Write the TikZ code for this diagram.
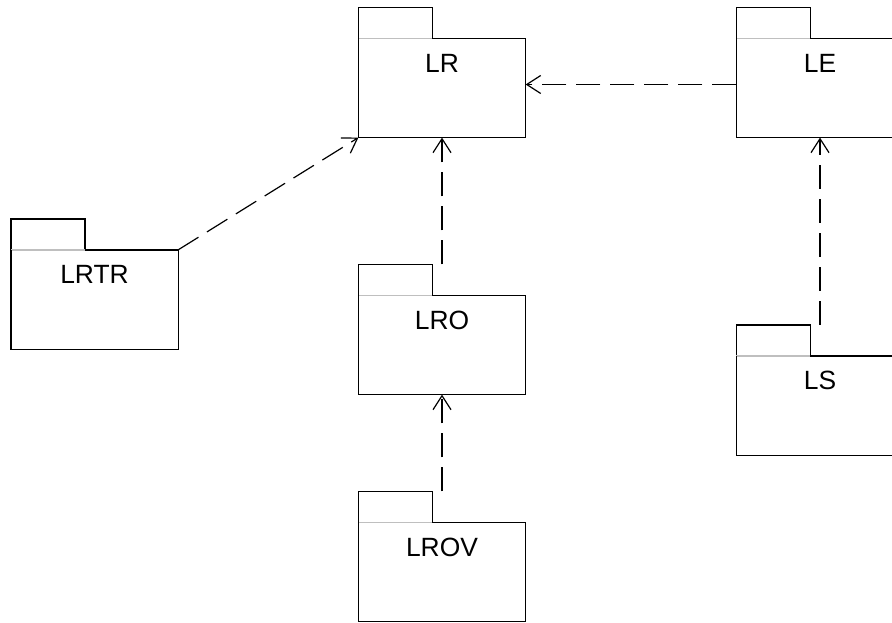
\documentclass[tikz,border=0pt]{standalone}
\usepackage{fontspec}
\setmainfont{Liberation Sans}
\usetikzlibrary{arrows.meta}
\newcommand{\tabw}{37pt}
\newcommand{\tabh}{15.5pt}

\begin{document}
\begin{tikzpicture}[x=0.5pt,y=0.5pt,line width=0.6pt,
	package/.style={minimum width=83pt,minimum height=64.5pt,inner sep=0pt,
	  label={[font=\fontsize{13.2}{15}\selectfont,anchor=center,yshift=-28pt]north:#1}},
	dep/.style={dash pattern=on 12pt off 5pt,-{Straight Barb[length=7pt,width=9pt]}}]
	\useasboundingbox (0,0) rectangle (892,622);
	\clip (0,0) rectangle (892,622);
	\node[package=LR] (lr) at (442,549.5) {};
	\node[package=LE] (le) at (820,549.5) {};
	\node[package=LRTR] (lrtr) at (94.5,338) {};
	\node[package=LRO] (lro) at (442,292.5) {};
	\node[package=LS] (ls) at (820,232) {};
	\node[package=LROV] (lrov) at (442,65.5) {};
	\foreach \n in {lr,le,lrtr,lro,ls,lrov}{
	  \draw ([yshift=-\tabh]\n.north west)|-([xshift=\tabw]\n.north west)--([xshift=\tabw,yshift=-\tabh]\n.north west);
	  \draw[gray!50] ([yshift=-\tabh]\n.north west)--([xshift=\tabw,yshift=-\tabh]\n.north west);
	  \draw ([xshift=\tabw,yshift=-\tabh]\n.north west)-|(\n.south east)-|([yshift=-\tabh]\n.north west);
	}
	\draw[dep] ([yshift=-6pt]le.west)--([yshift=-6pt]lr.east);
	\draw[dep] ([yshift=-\tabh]lrtr.north east)--(lr.south west);
	\draw[dep] (lro.north)--(lr.south);
	\draw[dep] (lrov.north)--(lro.south);
	\draw[dep] (ls.north)--(le.south);
  \end{tikzpicture}
\end{document}
